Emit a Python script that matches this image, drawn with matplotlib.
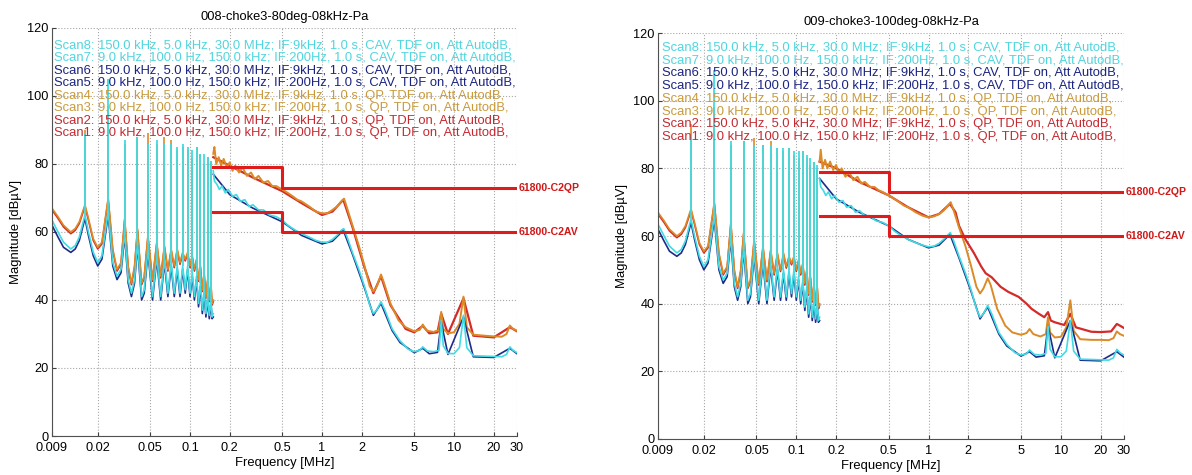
import numpy as np
import matplotlib
matplotlib.use('Agg')
import matplotlib.pyplot as plt
from matplotlib.ticker import NullLocator

plt.rcParams['font.family'] = ['Liberation Sans', 'DejaVu Sans']

# ---- axis ticks ----
FREQ_TICKS = [0.009, 0.02, 0.05, 0.1, 0.2, 0.5, 1, 2, 5, 10, 20, 30]
FREQ_LABELS = ['0.009', '0.02', '0.05', '0.1', '0.2', '0.5', '1', '2', '5', '10', '20', '30']
DB_TICKS = [0, 20, 40, 60, 80, 100, 120]

TITLES = ['008-choke3-80deg-08kHz-Pa', '009-choke3-100deg-08kHz-Pa']

# ---- limit lines (61800 C2) ----
LIM_F = [0.15, 0.5, 0.5, 30]
QP_LIM = [79, 79, 73, 73]
AV_LIM = [66, 66, 60, 60]

# ---- scan legend (top to bottom) ----
SCAN_TEXT = [
    'Scan8: 150.0 kHz, 5.0 kHz, 30.0 MHz; IF:9kHz, 1.0 s, CAV, TDF on, Att AutodB,',
    'Scan7: 9.0 kHz, 100.0 Hz, 150.0 kHz; IF:200Hz, 1.0 s, CAV, TDF on, Att AutodB,',
    'Scan6: 150.0 kHz, 5.0 kHz, 30.0 MHz; IF:9kHz, 1.0 s, CAV, TDF on, Att AutodB,',
    'Scan5: 9.0 kHz, 100.0 Hz, 150.0 kHz; IF:200Hz, 1.0 s, CAV, TDF on, Att AutodB,',
    'Scan4: 150.0 kHz, 5.0 kHz, 30.0 MHz; IF:9kHz, 1.0 s, QP, TDF on, Att AutodB,',
    'Scan3: 9.0 kHz, 100.0 Hz, 150.0 kHz; IF:200Hz, 1.0 s, QP, TDF on, Att AutodB,',
    'Scan2: 150.0 kHz, 5.0 kHz, 30.0 MHz; IF:9kHz, 1.0 s, QP, TDF on, Att AutodB,',
    'Scan1: 9.0 kHz, 100.0 Hz, 150.0 kHz; IF:200Hz, 1.0 s, QP, TDF on, Att AutodB,',
]
SCAN_TEXT_COLORS = ['#4fd6df', '#4fd6df', '#1b2480', '#1b2480',
                    '#c99a3c', '#c99a3c', '#c42a30', '#c42a30']

# ---- 9-150 kHz band (scan1/3/5/7), both measurements look the same here ----
HARM_KHZ = [16, 24, 32, 40, 48, 56, 64, 72, 80, 88, 96, 104, 112, 120, 128, 136, 144]
QP_LO_SHOULDER = [68, 70, 64, 61, 59, 57, 56, 55, 55, 54, 54, 53, 52, 50, 48, 46, 45]
RED_LO_SHOULDER = [67.5, 69.5, 63.5, 60.5, 58.5, 56.5, 55.5, 54.5, 54.5, 53.5, 53.5, 52.5, 51.5, 49.5, 47.5, 45.5, 44.5]
AV_LO_SHOULDER = [65, 66, 60, 57, 55, 53, 52, 51, 50, 50, 50, 48, 47, 45, 43, 41, 40]
NAVY_LO_SHOULDER = [64, 65, 59, 56, 54, 52, 51, 50, 49, 49, 49, 47, 46, 44, 42, 40, 39]

LO_VALLEY_KHZ = [9, 10, 11, 12.5, 13.5, 14.5, 17, 18.5, 20, 21.5, 26, 28, 30, 34, 36, 38,
                 43, 45, 52, 60, 68, 76, 84, 92, 100, 108, 116, 124, 132, 140, 147, 150]
QP_LO_VALLEY = [67, 64.5, 62, 60, 61, 63, 64, 58, 55.5, 57, 55, 49, 51, 50, 45, 50,
                45, 47, 46, 47, 49, 50, 51, 52, 50, 49, 46, 43, 41, 40, 39, 40]
RED_LO_VALLEY = [66.5, 64, 61.5, 59.5, 60.5, 62.5, 63.5, 57.5, 55, 56.5, 54.5, 48.5, 50.5, 49.5, 44.5, 49.5,
                 44.5, 46.5, 45.5, 46.5, 48.5, 49.5, 50.5, 51.5, 49.5, 48.5, 45.5, 42.5, 40.5, 39.5, 38.5, 39.5]
AV_LO_VALLEY = [63.5, 60, 57, 55, 56, 58.5, 60, 54, 51, 53, 51, 47, 49, 46, 42, 46,
                41, 43, 41, 41, 42, 42, 42, 43, 42, 41, 39, 37, 36, 35.5, 35, 36]
NAVY_LO_VALLEY = [62, 58.5, 55.5, 54, 55, 57.5, 59, 53, 50, 52, 50, 46, 48, 45, 41, 45,
                  40, 42, 40, 40, 41, 41, 41, 42, 41, 40, 38, 36, 35, 34.5, 34.5, 35]

# harmonic peak levels per measurement
QP_PEAK_80 = [90, 97, 86, 88, 89, 86, 88, 87, 84, 85, 84, 82, 85, 83, 80, 82, 81]
AV_PEAK_80 = [89, 105, 87, 88, 86, 87, 86, 86, 85, 86, 85, 84, 85, 83, 83, 82, 81]
QP_PEAK_100 = [93, 98, 87, 88, 89, 87, 88, 86, 85, 86, 84, 83, 85, 83, 81, 82, 80]
AV_PEAK_100 = [90, 109, 88, 88, 87, 87, 87, 86, 86, 86, 85, 85, 85, 84, 83, 82, 81]

# ---- 150 kHz - 30 MHz band, 80deg ----
QP_HI_F_80 = [0.15, 0.153, 0.158, 0.165, 0.172, 0.18, 0.19, 0.2, 0.21, 0.22, 0.235, 0.25, 0.27, 0.29,
              0.31, 0.33, 0.36, 0.39, 0.42, 0.45, 0.5, 0.55, 0.6, 0.65, 0.7, 0.8, 0.9, 1.0, 1.1, 1.2,
              1.3, 1.4, 1.47, 1.55, 1.7, 1.9, 2.1, 2.3, 2.45, 2.6, 2.8, 2.95, 3.3, 3.8, 4.3, 5.0, 5.5,
              5.8, 6.2, 7.0, 7.7, 8.0, 8.3, 9.0, 10, 11, 11.8, 12.5, 14, 17, 20, 23, 25, 26.5, 28, 30]
QP_HI_80 = [83, 85, 80, 82, 79.5, 81.5, 79, 80.5, 78, 79.5, 77.5, 79, 76.5, 77.5,
            75.5, 76.5, 74.5, 75, 73.5, 73.5, 72.5, 71.5, 70.5, 69.5, 69, 67.5, 66, 65.5, 65.5, 66.5,
            67.5, 69, 69.8, 67, 62, 56, 50, 44, 42.5, 44, 47.5, 45, 39, 34, 32, 30.8, 31.2,
            32.8, 31, 30.6, 31.2, 36.5, 31.5, 30.2, 30.5, 33, 41, 32, 29.8, 29.5, 29.3, 29.2, 30, 32.5, 31.5, 31]
RED_HI_F_80 = [0.15, 0.2, 0.3, 0.5, 0.7, 1.0, 1.2, 1.45, 1.7, 2.1, 2.45, 2.8, 3.3, 4.3, 5.0, 5.8,
               6.5, 7.5, 8.0, 9, 11.8, 14, 20, 26.5, 30]
RED_HI_80 = [82, 79.5, 76, 72, 68.5, 65, 66, 69.5, 61.5, 49.5, 42, 47, 38.5, 31.5, 30.5, 32.4,
             30.2, 30.5, 36, 30, 40.5, 29.5, 29, 32, 30.8]
AV_HI_F_80 = [0.15, 0.153, 0.16, 0.167, 0.175, 0.185, 0.195, 0.21, 0.225, 0.24, 0.26, 0.28, 0.3, 0.33,
              0.36, 0.4, 0.45, 0.5, 0.55, 0.6, 0.7, 0.8, 0.9, 1.0, 1.1, 1.2, 1.3, 1.4, 1.46, 1.55, 1.7,
              1.9, 2.1, 2.3, 2.45, 2.6, 2.8, 3.0, 3.4, 3.9, 4.5, 5.0, 5.5, 5.8, 6.3, 7.0, 7.7, 8.0,
              8.3, 9.0, 10, 11, 11.8, 12.5, 14, 17, 20, 23, 25, 26.5, 28, 30]
AV_HI_80 = [78, 75, 74, 72.5, 73.5, 71.5, 72.5, 70.5, 71, 69, 69.5, 67.5, 68, 66.5,
            66.5, 65, 64.5, 63.5, 62, 61, 59.5, 58.5, 57.5, 57, 57, 57.8, 59, 60.5, 61, 58.5, 54,
            49, 44, 38.5, 36, 37, 39.5, 37, 31.5, 28, 25.5, 24.8, 25.2, 26.2, 25, 24.8, 25.2, 34,
            26.5, 24.3, 24.2, 26, 35.5, 26, 23.6, 23.5, 23.4, 23.3, 24, 26.2, 25.2, 24.5]
NAVY_HI_F = [0.15, 0.2, 0.3, 0.5, 0.7, 1.0, 1.2, 1.45, 1.7, 2.1, 2.45, 2.8, 3.4, 3.9, 5.0, 5.8,
             6.5, 7.5, 8.0, 9, 11.8, 14, 20, 26.5, 30]
NAVY_HI = [77, 71, 67, 63, 59, 56.5, 57.3, 60.5, 53.5, 43.5, 35.5, 39, 31, 27.5, 24.5, 25.8,
           24.2, 24.6, 33.5, 24, 35, 23.3, 23.1, 25.8, 24.2]

# ---- 150 kHz - 30 MHz band, 100deg ----
QP_HI_F_100 = QP_HI_F_80
QP_HI_100 = [82, 85.5, 80, 82.5, 80, 82, 79.5, 81, 78.5, 80, 77.5, 79, 76.5, 77.5,
             75.5, 76, 74.5, 74.5, 73.5, 73, 72, 71, 70, 69, 68.5, 67, 66, 65.5, 65.8, 66.5,
             67.5, 69, 70, 67.5, 62.5, 57, 51, 45, 43, 44.5, 47.5, 45.5, 38.5, 33.5, 31.5, 30.8, 31.3,
             32.5, 31, 30.3, 31, 36, 31.5, 30, 30.2, 33, 41, 32, 29.5, 29.3, 29.3, 29.2, 29.8, 31.8, 31, 30.5]
RED_HI_F_100 = [0.15, 0.2, 0.3, 0.5, 0.7, 1.0, 1.2, 1.45, 1.6, 1.7, 1.9, 2.2, 2.5, 2.7, 3.0, 3.5,
                4.0, 4.8, 5.5, 6.0, 6.7, 7.5, 8.0, 8.4, 9.0, 10.6, 11.8, 13, 17, 20, 24, 26.5, 28, 30]
RED_HI_100 = [82, 80, 76, 72, 68.5, 65.5, 66.5, 69.5, 67, 63, 59, 55, 51, 49, 47.8, 45,
              43.5, 42, 40, 38.5, 37.2, 36, 37.5, 35, 34.5, 33.7, 37, 33, 31.7, 31.6, 31.8, 34, 33.5, 32.8]
AV_HI_F_100 = AV_HI_F_80
AV_HI_100 = [77, 74.5, 73.5, 72, 73, 71, 72, 70, 70.5, 68.5, 69, 67, 67.5, 66,
             66, 64.5, 64, 63, 61.5, 60.5, 59, 58, 57.3, 56.8, 57, 57.8, 59, 60.3, 61, 58.5, 54,
             49, 44, 38.5, 36, 37, 39.5, 37, 31.5, 28, 25.5, 24.8, 25.2, 26.3, 25, 24.8, 25.3, 33.5,
             26.5, 24.3, 24.3, 26, 35, 26, 23.6, 23.5, 23.4, 23.3, 24, 26.5, 25.5, 24.8]

RED = '#d42a2a'
ORANGE = '#dc8a26'
NAVY = '#1f2a8a'
CYAN = '#40dbe3'
LIMIT = '#e01b1b'


def lo_band(valley_db, shoulder_db):
    f = np.array(LO_VALLEY_KHZ + HARM_KHZ) / 1000.0
    d = np.array(valley_db + shoulder_db)
    idx = np.argsort(f)
    return f[idx], d[idx]


def draw_panel(ax, title, qp_peak, av_peak, qp_hi, red_hi, av_hi, navy_hi, y0, step, x0):
    harm = np.array(HARM_KHZ) / 1000.0
    # scan1 / scan2 (red, QP)
    f, d = lo_band(RED_LO_VALLEY, RED_LO_SHOULDER)
    ax.plot(f, d, color=RED, lw=1.2)
    ax.plot(red_hi[0], red_hi[1], color=RED, lw=1.6)
    # scan3 / scan4 (orange, QP)
    f, d = lo_band(QP_LO_VALLEY, QP_LO_SHOULDER)
    ax.plot(f, d, color=ORANGE, lw=1.2)
    ax.vlines(harm, QP_LO_SHOULDER, qp_peak, color=ORANGE, lw=1.2)
    ax.plot(qp_hi[0], qp_hi[1], color=ORANGE, lw=1.4)
    # scan5 / scan6 (navy, CAV)
    f, d = lo_band(NAVY_LO_VALLEY, NAVY_LO_SHOULDER)
    ax.plot(f, d, color=NAVY, lw=1.2)
    ax.plot(navy_hi[0], navy_hi[1], color=NAVY, lw=1.2)
    # scan7 / scan8 (cyan, CAV)
    f, d = lo_band(AV_LO_VALLEY, AV_LO_SHOULDER)
    ax.plot(f, d, color=CYAN, lw=1.2)
    ax.vlines(harm, AV_LO_SHOULDER, av_peak, color=CYAN, lw=1.3)
    ax.plot(av_hi[0], av_hi[1], color=CYAN, lw=1.2)

    # limits
    ax.plot(LIM_F, QP_LIM, color=LIMIT, lw=2.2, zorder=5)
    ax.plot(LIM_F, AV_LIM, color=LIMIT, lw=2.2, zorder=5)
    tr = ax.get_yaxis_transform()
    ax.text(1.004, QP_LIM[-1], '61800-C2QP', transform=tr, color='#d01818', fontsize=7.6,
            fontweight='bold', va='center', ha='left', clip_on=False)
    ax.text(1.004, AV_LIM[-1], '61800-C2AV', transform=tr, color='#d01818', fontsize=7.6,
            fontweight='bold', va='center', ha='left', clip_on=False)

    for i, (txt, col) in enumerate(zip(SCAN_TEXT, SCAN_TEXT_COLORS)):
        ax.text(x0, y0 - i * step, txt, transform=ax.transAxes, color=col, fontsize=9.4,
                va='center', ha='left', zorder=10, clip_on=False)

    ax.set_xscale('log')
    ax.set_xlim(0.009, 30)
    ax.set_ylim(0, 120)
    ax.set_xticks(FREQ_TICKS)
    ax.set_xticklabels(FREQ_LABELS)
    ax.xaxis.set_minor_locator(NullLocator())
    ax.set_yticks(DB_TICKS)
    ax.tick_params(direction='in', length=3, labelsize=9.2, color='#404040')
    ax.tick_params(axis='x', pad=4.5)
    ax.tick_params(axis='y', pad=2.5)
    ax.grid(True, linestyle=':', color='#a8a8a8', lw=0.8)
    for s in ['top', 'right']:
        ax.spines[s].set_visible(False)
    for s in ['left', 'bottom']:
        ax.spines[s].set_color('#505050')
    ax.set_title(title, fontsize=9.3, pad=6)
    ax.set_xlabel('Frequency [MHz]', fontsize=9.4, labelpad=2)
    ax.set_ylabel('Magnitude [dB\u00b5V]', fontsize=9.4, labelpad=4)


fig = plt.figure(figsize=(11.92, 4.75), dpi=100)
ax1 = fig.add_axes([0.0436, 0.0821, 0.3901, 0.8590])
ax2 = fig.add_axes([0.5520, 0.0758, 0.3909, 0.8547])

draw_panel(ax1, TITLES[0], QP_PEAK_80, AV_PEAK_80,
           (QP_HI_F_80, QP_HI_80), (RED_HI_F_80, RED_HI_80),
           (AV_HI_F_80, AV_HI_80), (NAVY_HI_F, NAVY_HI),
           0.958, 0.0309, 0.005)
draw_panel(ax2, TITLES[1], QP_PEAK_100, AV_PEAK_100,
           (QP_HI_F_100, QP_HI_100), (RED_HI_F_100, RED_HI_100),
           (AV_HI_F_100, AV_HI_100), (NAVY_HI_F, NAVY_HI),
           0.965, 0.0317, 0.008)

fig.savefig('out.png', dpi=100)
